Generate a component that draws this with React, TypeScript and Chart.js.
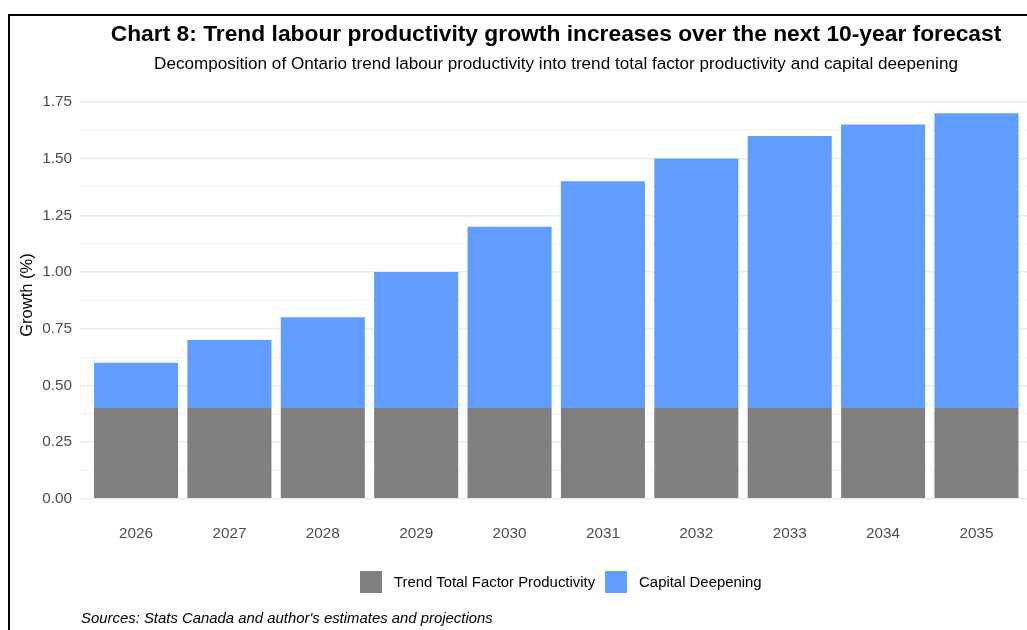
import React, { useEffect, useRef } from "react";
import { Chart, registerables } from "chart.js";

Chart.register(...registerables);

const years = ["2026", "2027", "2028", "2029", "2030", "2031", "2032", "2033", "2034", "2035"];
const tfpValues = [0.4, 0.4, 0.4, 0.4, 0.4, 0.4, 0.4, 0.4, 0.4, 0.4];
const capitalDeepeningValues = [0.2, 0.3, 0.4, 0.6, 0.8, 1.0, 1.1, 1.2, 1.25, 1.3];
const yMajorTicks = [0, 0.25, 0.5, 0.75, 1.0, 1.25, 1.5, 1.75];
const yMinorTicks = [0.125, 0.375, 0.625, 0.875, 1.125, 1.375, 1.625];
const seriesLabels = ["Trend Total Factor Productivity", "Capital Deepening"];
const seriesColors = ["#7f7f7f", "#619cff"];

const FONT = "'Liberation Sans', Arial, Helvetica, sans-serif";

function isMajor(v: number) {
  return yMajorTicks.some((t) => Math.abs(t - v) < 1e-9);
}

export default function App() {
  const canvasRef = useRef<HTMLCanvasElement | null>(null);

  useEffect(() => {
    if (!canvasRef.current) return;
    const seriesValues = [tfpValues, capitalDeepeningValues];
    const chart = new Chart(canvasRef.current, {
      type: "bar",
      data: {
        datasets: seriesValues.map((vals, si) => ({
          label: seriesLabels[si],
          data: vals.map((v, i) => ({ x: i, y: v })),
          backgroundColor: seriesColors[si],
          borderWidth: 0,
          barPercentage: 0.9,
          categoryPercentage: 1,
        })),
      },
      options: {
        responsive: false,
        animation: false,
        layout: { padding: { left: 0, top: 94, right: 7.5, bottom: 0 } },
        plugins: {
          legend: { display: false },
          tooltip: { enabled: false },
          title: { display: false },
        },
        scales: {
          x: {
            type: "linear",
            stacked: true,
            offset: false,
            min: -0.6,
            max: 9.6,
            grid: { display: false, drawTicks: false, offset: false },
            border: { display: false },
            afterBuildTicks: (scale: any) => {
              scale.ticks = years.map((_, i) => ({ value: i }));
            },
            afterFit: (scale: any) => {
              scale.height = 42;
            },
            ticks: {
              autoSkip: false,
              maxRotation: 0,
              padding: 7,
              color: "#4d4d4d",
              font: { family: FONT, size: 15.3 },
              callback: (v: any) => years[Math.round(Number(v))] ?? "",
            },
          },
          y: {
            type: "linear",
            stacked: true,
            min: -0.085,
            max: 1.785,
            border: { display: false },
            grid: {
              drawTicks: false,
              color: (ctx: any) => (isMajor(ctx.tick?.value) ? "#ebebeb" : "#f3f3f3"),
              lineWidth: (ctx: any) => (isMajor(ctx.tick?.value) ? 1.5 : 0.9),
            },
            afterBuildTicks: (scale: any) => {
              scale.ticks = [...yMajorTicks, ...yMinorTicks]
                .sort((a, b) => a - b)
                .map((v) => ({ value: v }));
            },
            afterFit: (scale: any) => {
              scale.width = 80;
            },
            ticks: {
              autoSkip: false,
              padding: 8,
              color: "#4d4d4d",
              font: { family: FONT, size: 15.3 },
              callback: (v: any) => (isMajor(Number(v)) ? Number(v).toFixed(2) : ""),
            },
          },
        },
      } as any,
    });
    return () => chart.destroy();
  }, []);

  return (
    <div
      style={{
        position: "fixed",
        left: 0,
        top: 0,
        width: 1027,
        height: 630,
        overflow: "hidden",
        background: "#ffffff",
        fontFamily: FONT,
      }}
    >
      <canvas
        ref={canvasRef}
        width={1040}
        height={560}
        style={{ position: "absolute", left: 0, top: 0, width: 1040, height: 560 }}
      />
      <div
        style={{
          position: "absolute",
          left: 8,
          top: 14,
          width: 1200,
          height: 800,
          borderTop: "2px solid #000",
          borderLeft: "2px solid #000",
          pointerEvents: "none",
        }}
      />
      <div
        style={{
          position: "absolute",
          left: 80,
          width: 952,
          top: 22.2,
          textAlign: "center",
          fontSize: 22.8,
          lineHeight: "22.8px",
          fontWeight: "bold",
          color: "#000",
          whiteSpace: "nowrap",
        }}
      >
        Chart 8: Trend labour productivity growth increases over the next 10-year forecast
      </div>
      <div
        style={{
          position: "absolute",
          left: 80,
          width: 952,
          top: 55.3,
          textAlign: "center",
          fontSize: 17.1,
          lineHeight: "17.1px",
          color: "#000",
          whiteSpace: "nowrap",
        }}
      >
        Decomposition of Ontario trend labour productivity into trend total factor productivity and capital deepening
      </div>
      <div
        style={{
          position: "absolute",
          left: 26,
          top: 295,
          transform: "translate(-50%, -50%) rotate(-90deg)",
          fontSize: 16.5,
          lineHeight: "16.5px",
          color: "#000",
          whiteSpace: "nowrap",
        }}
      >
        Growth (%)
      </div>
      <div
        style={{
          position: "absolute",
          left: 360,
          top: 571,
          display: "flex",
          alignItems: "center",
          height: 22,
          fontSize: 14.9,
          lineHeight: "14.9px",
          color: "#000",
          whiteSpace: "nowrap",
        }}
      >
        {seriesLabels.map((lab, i) => (
          <React.Fragment key={lab}>
            <span
              style={{
                display: "inline-block",
                width: 22,
                height: 22,
                background: seriesColors[i],
                marginLeft: i === 0 ? 0 : 10,
              }}
            />
            <span style={{ marginLeft: 12 }}>{lab}</span>
          </React.Fragment>
        ))}
      </div>
      <div
        style={{
          position: "absolute",
          left: 81,
          top: 611,
          fontSize: 14.9,
          lineHeight: "14.9px",
          fontStyle: "italic",
          color: "#000",
          whiteSpace: "nowrap",
        }}
      >
        Sources: Stats Canada and author's estimates and projections
      </div>
    </div>
  );
}
